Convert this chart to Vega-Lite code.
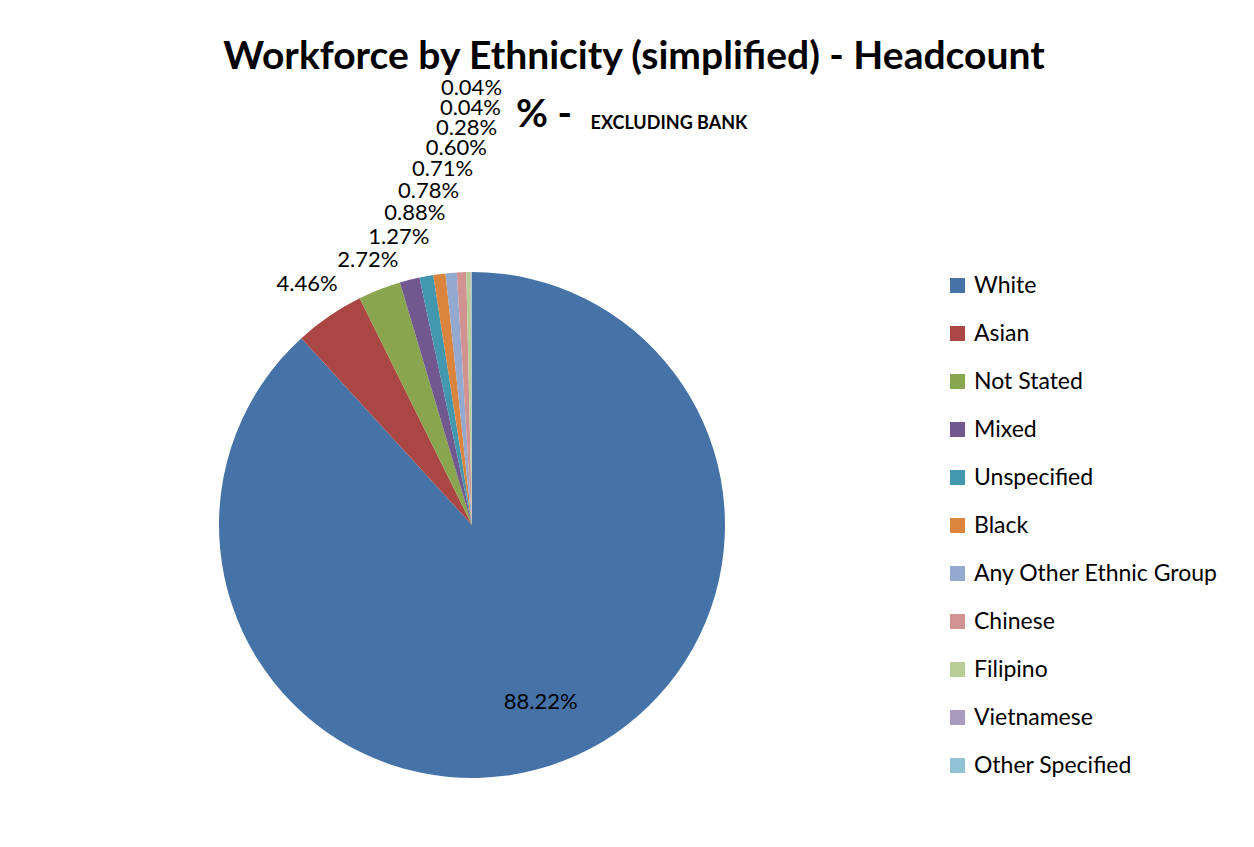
{
  "$schema": "https://vega.github.io/schema/vega-lite/v6.json",
  "width": 944,
  "height": 644,
  "autosize": {"type": "none"},
  "padding": {"left": 0, "top": 203, "right": 310, "bottom": 0},
  "background": "white",
  "title": {
    "text": ["Workforce by Ethnicity (simplified) - Headcount", "% -\u00a0\u00a0\u00a0\u00a0\u00a0\u00a0\u00a0\u00a0\u00a0\u00a0\u00a0\u00a0\u00a0\u00a0\u00a0\u00a0\u00a0\u00a0\u00a0\u200b"],
    "subtitle": "\u200b\u00a0\u00a0\u00a0\u00a0\u00a0\u00a0\u00a0\u00a0\u00a0\u00a0\u00a0\u00a0\u00a0\u00a0\u00a0\u00a0EXCLUDING BANK",
    "font": "Lato",
    "fontSize": 39,
    "fontWeight": "bold",
    "color": "#000000",
    "lineHeight": 58,
    "subtitleFont": "Lato",
    "subtitleFontSize": 18,
    "subtitleFontWeight": "bold",
    "subtitleColor": "#000000",
    "subtitlePadding": -20,
    "anchor": "middle",
    "frame": "group",
    "dx": 162,
    "offset": -58
  },
  "data": {
    "values": [
      {"category": "White", "pct": 88.22, "rank": 1, "label": "88.22%"},
      {"category": "Asian", "pct": 4.46, "rank": 2, "label": "4.46%"},
      {"category": "Not Stated", "pct": 2.72, "rank": 3, "label": "2.72%"},
      {"category": "Mixed", "pct": 1.27, "rank": 4, "label": "1.27%"},
      {"category": "Unspecified", "pct": 0.88, "rank": 5, "label": "0.88%"},
      {"category": "Black", "pct": 0.78, "rank": 6, "label": "0.78%"},
      {"category": "Any Other Ethnic Group", "pct": 0.71, "rank": 7, "label": "0.71%"},
      {"category": "Chinese", "pct": 0.60, "rank": 8, "label": "0.60%"},
      {"category": "Filipino", "pct": 0.28, "rank": 9, "label": "0.28%"},
      {"category": "Vietnamese", "pct": 0.04, "rank": 10, "label": "0.04%"},
      {"category": "Other Specified", "pct": 0.04, "rank": 11, "label": "0.04%"}
    ]
  },
  "encoding": {
    "theta": {"field": "pct", "type": "quantitative", "stack": true},
    "order": {"field": "rank", "type": "quantitative"},
    "detail": {"field": "category", "type": "nominal"}
  },
  "layer": [
    {
      "mark": {"type": "arc", "outerRadius": 253},
      "encoding": {
        "color": {
          "field": "category",
          "type": "nominal",
          "scale": {
            "domain": ["White", "Asian", "Not Stated", "Mixed", "Unspecified", "Black", "Any Other Ethnic Group", "Chinese", "Filipino", "Vietnamese", "Other Specified"],
            "range": ["#4572A7", "#AA4643", "#89A54E", "#71588F", "#4198AF", "#DB843D", "#93A9CF", "#D19392", "#B9CD96", "#A99BBD", "#92C3D5"]
          },
          "legend": {
            "orient": "none",
            "legendX": 946,
            "legendY": 71,
            "title": null,
            "symbolType": "square",
            "symbolSize": 225,
            "symbolStrokeWidth": 0,
            "labelFont": "Lato",
            "labelFontSize": 23,
            "labelColor": "#000000",
            "labelOffset": 5,
            "rowPadding": 24,
            "labelLimit": 400
          }
        }
      }
    },
    {
      "mark": {"type": "text", "font": "Lato", "fontSize": 22, "color": "#000000"},
      "encoding": {
        "text": {"condition": {"test": "datum.rank == 11", "value": ""}, "field": "label", "type": "nominal"},
        "radius": {
          "field": "pct",
          "type": "quantitative",
          "scale": {
            "type": "linear",
            "zero": false,
            "nice": false,
            "domain": [0.04, 0.28, 0.6, 0.71, 0.78, 0.88, 1.27, 2.72, 4.46, 88.22],
            "range": [417, 397, 377, 357, 337, 317, 297, 285, 292, 190]
          }
        }
      }
    },
    {
      "mark": {"type": "text", "font": "Lato", "fontSize": 22, "color": "#000000", "radius": 437},
      "encoding": {
        "text": {"condition": {"test": "datum.rank == 11", "field": "label", "type": "nominal"}, "value": ""}
      }
    }
  ],
  "config": {"view": {"stroke": null}}
}
